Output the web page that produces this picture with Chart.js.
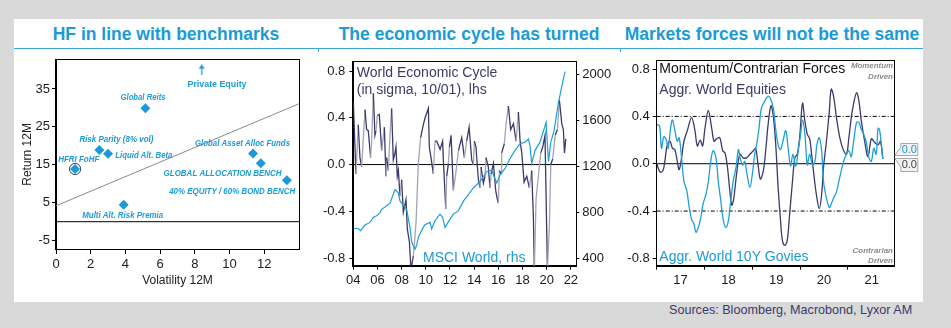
<!DOCTYPE html>
<html>
<head>
<meta charset="utf-8">
<script src="https://cdn.jsdelivr.net/npm/chart.js@4.4.0/dist/chart.umd.min.js"></script>
<style>
html, body { margin: 0; padding: 0; }
body { width: 951px; height: 328px; background: #d9d9d9; position: relative; overflow: hidden;
       font-family: "Liberation Sans", Arial, sans-serif; }
#sheet { position: absolute; left: 14px; top: 19px; width: 909px; height: 283px; background: #fff; }
.title { position: absolute; top: 34px; transform: translate(-50%, -50%); color: #1a9bd7;
         font-weight: bold; font-size: 17.5px; white-space: nowrap; }
#rule { position: absolute; left: 14px; top: 48px; width: 909px; height: 1.4px; background: #3aa6da; }
.notch { position: absolute; top: 49px; width: 1px; height: 3px; background: #3aa6da; }
canvas { position: absolute; }
#src { position: absolute; left: 669px; top: 303px; font-size: 12.6px; color: #3a3a6e; white-space: nowrap; }
</style>
</head>
<body>
<div id="sheet"></div>
<div class="title" style="left:166px">HF in line with benchmarks</div>
<div class="title" style="left:469px">The economic cycle has turned</div>
<div class="title" style="left:772px">Markets forces will not be the same</div>
<div id="rule"></div>
<div class="notch" style="left:318px"></div>
<div class="notch" style="left:620px"></div>
<canvas id="c1" width="300" height="250" style="left:14px;top:50px;width:300px;height:250px"></canvas>
<canvas id="c2" width="308" height="250" style="left:318px;top:50px;width:308px;height:250px"></canvas>
<canvas id="c3" width="297" height="250" style="left:626px;top:50px;width:297px;height:250px"></canvas>
<div id="src">Sources: Bloomberg, Macrobond, Lyxor AM</div>

<script>
// ---------- Left panel: hedge funds against benchmarks ----------
const fundNames = ['HFRI FoHF', 'Risk Parity (8% vol)', 'Liquid Alt. Beta', 'Multi Alt. Risk Premia',
                   'Global Reits', 'Global Asset Alloc Funds', 'GLOBAL ALLOCATION BENCH', '40% EQUITY / 60% BOND BENCH'];
const fundVol = [1.1, 2.5, 3.0, 3.9, 5.15, 11.35, 11.8, 13.3];
const fundRet = [13.9, 18.9, 17.9, 4.5, 29.9, 18.0, 15.4, 10.9];
const peName = 'Private Equity';
const peVol = 8.4;
const peRet = 40.1;
const trendVol = [0, 14];
const trendRet = [4.2, 31.1];
const volTicks = [0, 2, 4, 6, 8, 10, 12];
const retTicks = [-5, 5, 15, 25, 35];

// ---------- Middle panel: world economic cycle vs MSCI World ----------
const cycleYears = [2004.00, 2004.22, 2004.41, 2004.55, 2004.69, 2004.97, 2005.10, 2005.24, 2005.43, 2005.52,
  2005.66, 2005.79, 2005.88, 2005.99, 2006.15, 2006.35, 2006.57, 2006.70, 2006.76, 2006.90,
  2007.04, 2007.17, 2007.31, 2007.45, 2007.53, 2007.64, 2007.73, 2007.86, 2008.00, 2008.14,
  2008.36, 2008.47, 2008.64, 2008.77, 2008.97, 2009.19, 2009.38, 2009.57, 2009.79, 2009.94,
  2010.21, 2010.29, 2010.43, 2010.62, 2010.76, 2010.90, 2011.18, 2011.39, 2011.45, 2011.65,
  2011.73, 2011.87, 2011.95, 2012.09, 2012.28, 2012.47, 2012.70, 2012.97, 2013.19, 2013.38,
  2013.58, 2013.80, 2013.93, 2014.02, 2014.15, 2014.21, 2014.35, 2014.49, 2014.57, 2014.76,
  2014.90, 2014.98, 2015.17, 2015.31, 2015.40, 2015.59, 2015.78, 2015.92, 2016.00, 2016.09,
  2016.23, 2016.28, 2016.50, 2016.64, 2016.83, 2017.02, 2017.25, 2017.47, 2017.66, 2017.80,
  2017.94, 2018.13, 2018.35, 2018.57, 2018.76, 2018.90, 2018.98, 2019.12, 2019.31, 2019.51,
  2019.67, 2019.86, 2020.06, 2020.23, 2020.34, 2020.50, 2020.70, 2020.89, 2021.05, 2021.25,
  2021.38, 2021.47, 2021.58];
const cycleValues = [0.54, -0.08, 0.34, 0.06, -0.02, 0.47, 0.30, 0.29, 0.06, 0.20,
  0.61, 0.25, 0.29, 0.42, 0.43, 0.12, 0.32, -0.10, 0.06, -0.05,
  0.26, 0.48, 0.04, 0.10, 0.15, -0.10, -0.05, -0.27, -0.13, -0.41,
  -0.30, -0.55, -0.66, -0.90, -0.78, -0.50, 0.01, 0.23, 0.34, 0.40,
  0.48, 0.15, 0.06, -0.08, 0.20, 0.20, 0.13, 0.20, 0.04, -0.38,
  -0.10, 0.01, 0.15, 0.25, -0.22, -0.08, 0.12, 0.23, 0.06, 0.20,
  0.32, 0.04, 0.00, 0.20, 0.15, 0.06, -0.13, -0.20, -0.02, -0.16,
  -0.10, 0.06, -0.02, -0.20, -0.08, 0.01, -0.22, -0.30, -0.33, -0.05,
  -0.08, 0.10, 0.18, 0.35, 0.50, 0.30, 0.35, 0.20, 0.45, 0.20,
  0.10, -0.15, -0.10, -0.20, -0.05, -0.45, -0.90, -0.30, -0.10, 0.10,
  0.15, 0.25, -0.90, -0.50, 0.00, 0.05, 0.25, 0.30, 0.55, 0.35,
  0.30, 0.10, 0.22];
const msciYears = [2004.00, 2004.41, 2004.60, 2004.97, 2005.38, 2005.66, 2005.93, 2006.21, 2006.35, 2006.62,
  2007.04, 2007.45, 2007.59, 2007.73, 2007.86, 2008.14, 2008.41, 2008.69, 2008.83, 2009.10,
  2009.24, 2009.38, 2009.52, 2009.79, 2009.93, 2010.35, 2010.48, 2010.76, 2011.17, 2011.38,
  2011.59, 2012.00, 2012.28, 2012.69, 2013.11, 2013.52, 2013.93, 2014.49, 2015.04, 2015.45,
  2015.65, 2015.87, 2016.14, 2016.56, 2016.97, 2017.38, 2017.80, 2018.21, 2018.49, 2018.62,
  2018.76, 2019.04, 2019.45, 2019.95, 2020.15, 2020.34, 2020.61, 2020.97, 2021.25, 2021.52];
const msciValues = [660, 660, 642, 690, 713, 756, 770, 798, 827, 847,
  880, 998, 984, 970, 900, 860, 827, 670, 542, 480,
  514, 585, 614, 670, 693, 713, 656, 728, 785, 760,
  670, 742, 785, 813, 898, 955, 1012, 1069, 1154, 1168,
  1110, 1055, 1126, 1182, 1268, 1339, 1396, 1410, 1439, 1380,
  1225, 1339, 1410, 1582, 1240, 1410, 1510, 1752, 1895, 2023];
const cycleYearTicks = [2004, 2006, 2008, 2010, 2012, 2014, 2016, 2018, 2020, 2022];
const cycleYearLabels = ['04', '06', '08', '10', '12', '14', '16', '18', '20', '22'];
const sigmaTicks = [-0.8, -0.4, 0, 0.4, 0.8];
const msciTicks = [400, 800, 1200, 1600, 2000];

// ---------- Right panel: momentum / contrarian forces ----------
const eqYears = [2017.00, 2017.07, 2017.13, 2017.17, 2017.22, 2017.28, 2017.33, 2017.38, 2017.43, 2017.47,
  2017.52, 2017.57, 2017.64, 2017.73, 2017.80, 2017.85, 2017.91, 2017.96, 2018.01, 2018.08,
  2018.15, 2018.20, 2018.25, 2018.32, 2018.38, 2018.43, 2018.48, 2018.53, 2018.57, 2018.61,
  2018.67, 2018.74, 2018.81, 2018.88, 2018.95, 2019.02, 2019.07, 2019.12, 2019.17, 2019.23,
  2019.28, 2019.33, 2019.39, 2019.44, 2019.49, 2019.54, 2019.59, 2019.63, 2019.68, 2019.73,
  2019.78, 2019.84, 2019.89, 2019.94, 2019.99, 2020.05, 2020.10, 2020.15, 2020.20, 2020.24,
  2020.29, 2020.34, 2020.40, 2020.45, 2020.49, 2020.55, 2020.61, 2020.65, 2020.70, 2020.76,
  2020.83, 2020.90, 2020.97, 2021.02, 2021.07, 2021.12, 2021.18, 2021.23, 2021.28, 2021.35,
  2021.42, 2021.49, 2021.56, 2021.63, 2021.68, 2021.73];
const eqValues = [0.00, -0.07, -0.06, 0.02, 0.16, 0.19, 0.13, 0.12, 0.02, -0.05,
  0.05, 0.19, 0.28, 0.39, 0.28, 0.15, 0.20, 0.15, 0.30, 0.45,
  0.30, 0.19, 0.21, 0.22, 0.11, 0.09, -0.03, -0.23, -0.35, -0.30,
  -0.09, 0.08, 0.05, 0.05, 0.08, 0.11, 0.13, -0.01, -0.13, -0.06,
  0.11, 0.33, 0.49, 0.40, 0.16, -0.20, -0.48, -0.65, -0.69, -0.65,
  -0.43, -0.15, 0.05, 0.08, 0.22, 0.51, 0.36, 0.25, 0.21, 0.08,
  -0.10, -0.26, -0.38, -0.26, -0.03, 0.19, 0.44, 0.63, 0.57, 0.39,
  0.22, 0.12, 0.08, 0.22, 0.39, 0.51, 0.60, 0.53, 0.36, 0.19,
  0.06, 0.21, 0.18, 0.16, 0.19, 0.04];
const govYears = [2017.00, 2017.06, 2017.10, 2017.15, 2017.21, 2017.24, 2017.29, 2017.33, 2017.38, 2017.43,
  2017.47, 2017.52, 2017.57, 2017.63, 2017.68, 2017.73, 2017.78, 2017.82, 2017.87, 2017.92,
  2017.97, 2018.03, 2018.08, 2018.13, 2018.18, 2018.24, 2018.29, 2018.34, 2018.39, 2018.45,
  2018.50, 2018.55, 2018.60, 2018.66, 2018.71, 2018.75, 2018.80, 2018.84, 2018.89, 2018.95,
  2019.00, 2019.05, 2019.09, 2019.14, 2019.19, 2019.26, 2019.33, 2019.38, 2019.44, 2019.49,
  2019.54, 2019.59, 2019.64, 2019.70, 2019.75, 2019.80, 2019.85, 2019.91, 2019.96, 2020.01,
  2020.05, 2020.10, 2020.15, 2020.20, 2020.26, 2020.31, 2020.35, 2020.40, 2020.45, 2020.49,
  2020.55, 2020.61, 2020.65, 2020.70, 2020.76, 2020.81, 2020.86, 2020.91, 2020.97, 2021.02,
  2021.07, 2021.12, 2021.18, 2021.23, 2021.28, 2021.33, 2021.38, 2021.44, 2021.49, 2021.54,
  2021.59, 2021.63, 2021.66, 2021.70, 2021.73];
const govValues = [0.33, 0.32, 0.13, 0.23, 0.19, 0.13, 0.30, 0.37, 0.28, 0.19,
  0.22, 0.05, -0.15, -0.23, -0.37, -0.47, -0.51, -0.58, -0.54, -0.46,
  -0.34, -0.26, -0.15, 0.02, 0.11, 0.05, -0.16, -0.31, -0.47, -0.54,
  -0.48, -0.31, -0.15, -0.03, 0.12, 0.04, -0.01, 0.02, -0.09, -0.20,
  -0.09, 0.08, 0.16, 0.30, 0.47, 0.53, 0.57, 0.55, 0.47, 0.29,
  0.16, 0.12, 0.19, 0.28, 0.13, -0.02, 0.08, -0.02, 0.11, 0.25,
  0.37, 0.25, -0.01, 0.08, -0.01, 0.02, 0.16, 0.22, 0.11, -0.15,
  -0.29, -0.37, -0.34, -0.29, -0.24, -0.15, -0.06, 0.02, 0.08, 0.11,
  0.06, 0.19, 0.35, 0.35, 0.29, 0.25, 0.19, 0.05, 0.02, 0.13,
  0.08, 0.30, 0.29, 0.16, 0.04];
const forceYearLabels = ['17', '18', '19', '20', '21'];
const forceBands = [-0.4, 0.4];

// ---------- shared styling ----------
const FONT = '"Liberation Sans", Arial, sans-serif';
const BLUE = '#1a9bd7';
const NAVY = '#3a3a6b';
const NAVY_LIGHT = '#a3a3b6';
Chart.defaults.font.family = FONT;
Chart.defaults.color = '#1a1a1a';

const pts = (xs, ys) => xs.map((x, i) => ({ x, y: ys[i] }));
const fixTicks = list => scale => { scale.ticks = list.map(v => ({ value: v })); };

// box around the plotting area
const framePlugin = {
  id: 'frame',
  afterDatasetsDraw(chart) {
    const a = chart.chartArea, ctx = chart.ctx;
    ctx.save();
    ctx.strokeStyle = '#000';
    ctx.lineWidth = 1;
    ctx.strokeRect(Math.round(a.left) - 0.5, Math.round(a.top) - 0.5,
                   Math.round(a.right) - Math.round(a.left) + 1, Math.round(a.bottom) - Math.round(a.top) + 1);
    ctx.restore();
  }
};

// free text placed relative to the plotting area
function notesPlugin(id, notes) {
  return {
    id,
    afterDraw(chart) {
      const a = chart.chartArea, ctx = chart.ctx;
      ctx.save();
      ctx.textBaseline = 'middle';
      notes.forEach(n => {
        ctx.font = n.font;
        ctx.fillStyle = n.color;
        ctx.textAlign = n.align || 'left';
        const x = n.fromRight ? a.right + n.x : a.left + n.x;
        const y = a.top + n.y;
        if (n.w) ctx.fillText(n.text, x, y, n.w); else ctx.fillText(n.text, x, y);
      });
      ctx.restore();
    }
  };
}

function baseOptions(padding) {
  return {
    responsive: false,
    animation: false,
    events: [],
    layout: { padding },
    plugins: { legend: { display: false }, tooltip: { enabled: false } }
  };
}

// ---------- chart 1 ----------
const arrowIcon = (() => {
  const c = document.createElement('canvas');
  c.width = 7; c.height = 11;
  const g = c.getContext('2d');
  g.strokeStyle = BLUE; g.fillStyle = BLUE; g.lineWidth = 1.3;
  g.beginPath(); g.moveTo(3.5, 11); g.lineTo(3.5, 3); g.stroke();
  g.beginPath(); g.moveTo(0.5, 4.5); g.lineTo(3.5, 0); g.lineTo(6.5, 4.5); g.closePath(); g.fill();
  return c;
})();

const fundLabelLayout = [
  { dx: 3.7, dy: -9.7, w: 41 },
  { dx: 17, dy: -10.4, w: 74 },
  { dx: 35.8, dy: 1.4, w: 57 },
  { dx: -1, dy: 11.3, w: 81 },
  { dx: -2.4, dy: -11, w: 45 },
  { dx: -10.5, dy: -10, w: 95 },
  { dx: -38.2, dy: 10.7, w: 118 },
  { dx: -54.7, dy: 11.4, w: 126 }
];

const fundLabels = {
  id: 'fundLabels',
  afterDatasetsDraw(chart) {
    const ctx = chart.ctx, xs = chart.scales.x, ys = chart.scales.y;
    ctx.save();
    ctx.fillStyle = BLUE;
    ctx.textAlign = 'center';
    ctx.textBaseline = 'middle';
    ctx.font = 'italic bold 9px ' + FONT;
    fundNames.forEach((name, i) => {
      const L = fundLabelLayout[i];
      ctx.fillText(name, xs.getPixelForValue(fundVol[i]) + L.dx, ys.getPixelForValue(fundRet[i]) + L.dy, L.w);
    });
    ctx.font = 'bold 9.5px ' + FONT;
    ctx.fillText(peName, xs.getPixelForValue(peVol) + 15.2, ys.getPixelForValue(peRet) + 14.7, 59);
    ctx.restore();
  }
};

const opt1 = baseOptions({ top: 7, right: 15, left: 0, bottom: 0 });
opt1.scales = {
  x: {
    type: 'linear', min: 0, max: 14,
    afterFit: s => { s.height = 51; },
    afterBuildTicks: fixTicks(volTicks),
    grid: { drawOnChartArea: false, tickLength: 5, tickColor: '#000' },
    border: { color: '#000' },
    ticks: { padding: 3, font: { size: 13 }, maxRotation: 0, autoSkip: false, callback: v => String(v) },
    title: { display: true, text: 'Volatility 12M', font: { size: 12 }, color: '#222', padding: { top: 0, bottom: 12 } }
  },
  y: {
    type: 'linear', min: -7.2, max: 42.7,
    afterFit: s => { s.width = 42; },
    afterBuildTicks: fixTicks(retTicks),
    grid: { drawOnChartArea: false, tickLength: 4, tickColor: '#000' },
    border: { color: '#000' },
    ticks: { padding: 2, font: { size: 13 }, autoSkip: false, callback: v => String(v) },
    title: { display: true, text: 'Return 12M', font: { size: 12 }, color: '#222', padding: { top: 6, bottom: 0 } }
  }
};

new Chart(document.getElementById('c1'), {
  type: 'scatter',
  data: {
    datasets: [
      { data: pts(fundVol, fundRet), pointStyle: 'rectRot', pointRadius: 5, backgroundColor: BLUE, borderWidth: 0 },
      { data: [{ x: fundVol[0], y: fundRet[0] }], pointStyle: 'circle', pointRadius: 5.6,
        backgroundColor: 'rgba(0,0,0,0)', borderColor: NAVY, borderWidth: 1 },
      { data: [{ x: peVol, y: peRet }], pointStyle: arrowIcon, pointRadius: 5 },
      { data: pts(trendVol, trendRet), showLine: true, pointRadius: 0, borderColor: '#8a8a8a', borderWidth: 1 },
      { data: pts(trendVol, [0, 0]), showLine: true, pointRadius: 0, borderColor: '#000', borderWidth: 1 }
    ]
  },
  options: opt1,
  plugins: [framePlugin, fundLabels]
});

// ---------- chart 2 ----------
const opt2 = baseOptions({ top: 8.3, right: 0, left: 0, bottom: 0 });
opt2.scales = {
  x: {
    type: 'linear', min: 2004, max: 2022.45,
    afterFit: s => { s.height = 34.3; },
    afterBuildTicks: fixTicks(cycleYearTicks),
    grid: { drawOnChartArea: false, tickLength: 4, tickColor: '#000' },
    border: { color: '#000' },
    ticks: { padding: 3, font: { size: 13 }, maxRotation: 0, autoSkip: false,
             callback: v => cycleYearLabels[cycleYearTicks.indexOf(v)] }
  },
  y: {
    type: 'linear', position: 'left', min: -0.865, max: 0.879,
    afterFit: s => { s.width = 35.3; },
    afterBuildTicks: fixTicks(sigmaTicks),
    grid: { drawOnChartArea: false, tickLength: 4, tickColor: '#000' },
    border: { color: '#000' },
    ticks: { padding: 4, font: { size: 13 }, autoSkip: false, callback: v => v.toFixed(1) }
  },
  y2: {
    type: 'linear', position: 'right', min: 337, max: 2108,
    afterFit: s => { s.width = 49.7; },
    afterBuildTicks: fixTicks(msciTicks),
    grid: { drawOnChartArea: false, tickLength: 3, tickColor: '#000' },
    border: { color: '#000' },
    ticks: { padding: 3, font: { size: 13 }, autoSkip: false, callback: v => String(v) }
  }
};

new Chart(document.getElementById('c2'), {
  type: 'scatter',
  data: {
    datasets: [
      { data: pts(msciYears, msciValues), yAxisID: 'y2', showLine: true, pointRadius: 0,
        borderColor: '#1f9fd8', borderWidth: 1.2 },
      { data: pts(cycleYears, cycleValues), yAxisID: 'y', showLine: true, pointRadius: 0,
        borderColor: NAVY, borderWidth: 1.3,
        segment: { borderColor: c => (c.p1.parsed.y > c.p0.parsed.y + 0.12 ? NAVY_LIGHT : NAVY) } },
      { data: pts([2004, 2022.45], [0, 0]), yAxisID: 'y', showLine: true, pointRadius: 0,
        borderColor: '#000', borderWidth: 1 }
    ]
  },
  options: opt2,
  plugins: [framePlugin, notesPlugin('cycleNotes', [
    { text: 'World Economic Cycle', x: 3.5, y: 11.5, font: '14px ' + FONT, color: NAVY },
    { text: '(in sigma, 10/01), lhs', x: 3.5, y: 28.4, font: '14px ' + FONT, color: NAVY },
    { text: 'MSCI World, rhs', x: 69.7, y: 196.7, font: '14px ' + FONT, color: BLUE }
  ])]
});

// ---------- chart 3 ----------
const forceTicks = [];
forceYearLabels.forEach((lab, i) => { forceTicks.push(2017 + i, 2017.5 + i); });

const lastValueFlags = {
  id: 'lastValueFlags',
  afterDraw(chart) {
    const a = chart.chartArea, ctx = chart.ctx, R = a.right;
    const govLast = govValues[govValues.length - 1].toFixed(1);
    const eqLast = eqValues[eqValues.length - 1].toFixed(1);
    ctx.save();
    ctx.fillStyle = '#f2f2f2';
    ctx.strokeStyle = '#a9a9a9';
    ctx.lineWidth = 1;
    ctx.beginPath();
    ctx.moveTo(R + 0.5, 105.5); ctx.lineTo(R + 6.5, 97); ctx.lineTo(R + 6.5, 93.5);
    ctx.lineTo(R + 23.5, 93.5); ctx.lineTo(R + 23.5, 105.5); ctx.closePath();
    ctx.fill(); ctx.stroke();
    ctx.beginPath();
    ctx.moveTo(R + 0.5, 108.5); ctx.lineTo(R + 23.5, 108.5); ctx.lineTo(R + 23.5, 121.5);
    ctx.lineTo(R + 6.5, 121.5); ctx.lineTo(R + 6.5, 117); ctx.closePath();
    ctx.fill(); ctx.stroke();
    ctx.font = '11px ' + FONT;
    ctx.textAlign = 'center';
    ctx.textBaseline = 'middle';
    ctx.fillStyle = BLUE;
    ctx.fillText(govLast, R + 15, 99.5);
    ctx.fillStyle = '#444';
    ctx.fillText(eqLast, R + 15, 115);
    ctx.restore();
  }
};

const opt3 = baseOptions({ top: 10, right: 28.7, left: 0, bottom: 0 });
opt3.scales = {
  x: {
    type: 'linear', min: 2017, max: 2021.97,
    afterFit: s => { s.height = 34.3; },
    afterBuildTicks: fixTicks(forceTicks),
    grid: { drawOnChartArea: false, tickLength: 4,
            tickColor: c => (c.tick && Number.isInteger(c.tick.value) ? '#000' : 'rgba(0,0,0,0)') },
    border: { color: '#000' },
    ticks: { padding: 3, font: { size: 13 }, maxRotation: 0, autoSkip: false,
             callback: v => (Number.isInteger(v) ? '' : forceYearLabels[Math.floor(v) - 2017]) }
  },
  y: {
    type: 'linear', min: -0.862, max: 0.870,
    afterFit: s => { s.width = 30.7; },
    afterBuildTicks: fixTicks(sigmaTicks),
    grid: { drawOnChartArea: false, tickLength: 4, tickColor: '#000' },
    border: { color: '#000' },
    ticks: { padding: 3, font: { size: 13 }, autoSkip: false, callback: v => v.toFixed(1) }
  }
};

const bandLine = level => ({
  data: pts([2017, 2021.97], [level, level]), showLine: true, pointRadius: 0,
  borderColor: '#000', borderWidth: 1, borderDash: [4, 2, 1, 2]
});

new Chart(document.getElementById('c3'), {
  type: 'scatter',
  data: {
    datasets: [
      { data: pts(govYears, govValues), showLine: true, pointRadius: 0, borderColor: '#1f9fd8',
        borderWidth: 1.3, tension: 0.35 },
      { data: pts(eqYears, eqValues), showLine: true, pointRadius: 0, borderColor: NAVY,
        borderWidth: 1.3, tension: 0.35 },
      bandLine(forceBands[0]),
      bandLine(forceBands[1]),
      { data: pts([2017, 2021.97], [0, 0]), showLine: true, pointRadius: 0, borderColor: '#000', borderWidth: 1 }
    ]
  },
  options: opt3,
  plugins: [framePlugin, lastValueFlags, notesPlugin('forceNotes', [
    { text: 'Momentum/Contrarian Forces', x: 2.6, y: 8.3, font: '14px ' + FONT, color: '#111' },
    { text: 'Aggr. World Equities', x: 2.6, y: 29.3, font: '14px ' + FONT, color: NAVY },
    { text: 'Aggr. World 10Y Govies', x: 2.6, y: 196.7, font: '14px ' + FONT, color: BLUE },
    { text: 'Momentum', x: -1.3, y: 4.7, fromRight: true, align: 'right', font: 'italic bold 8px ' + FONT, color: '#8a8a8a', w: 42 },
    { text: 'Driven', x: -1.3, y: 16.3, fromRight: true, align: 'right', font: 'italic bold 8px ' + FONT, color: '#8a8a8a', w: 26 },
    { text: 'Contrarian', x: -1.3, y: 189.7, fromRight: true, align: 'right', font: 'italic bold 8px ' + FONT, color: '#8a8a8a', w: 41 },
    { text: 'Driven', x: -1.3, y: 200.3, fromRight: true, align: 'right', font: 'italic bold 8px ' + FONT, color: '#8a8a8a', w: 26 }
  ])]
});
</script>
</body>
</html>
